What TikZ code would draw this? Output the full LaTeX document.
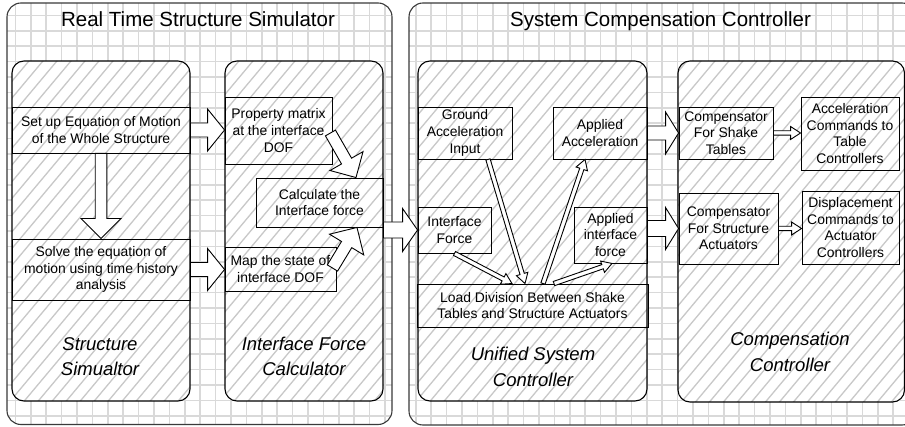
\documentclass[tikz,border=0pt]{standalone}
\usepackage{fontspec}
\setmainfont{Liberation Sans}
\usetikzlibrary{calc}

\definecolor{gridc}{HTML}{D9D9D9}
\definecolor{hatchc}{HTML}{C8C8C8}
\definecolor{framec}{HTML}{3A3A3A}

\tikzset{
  outerpanel/.style={rounded corners=14pt, draw=framec, line width=1.1pt},
  innerpanel/.style={rounded corners=12pt, draw=black, line width=1.1pt},
  gridline/.style={draw=gridc, line width=1.6pt},
  hatchline/.style={draw=hatchc, line width=1.3pt},
  procbox/.style={draw=black, line width=0.9pt, align=center, inner sep=0pt,
    font=\fontsize{13.9}{16.7}\selectfont},
  blockarrow/.style={draw=black, fill=white, line width=0.9pt, line join=miter},
  paneltitle/.style={font=\fontsize{20.5}{24}\selectfont, inner sep=0pt, anchor=base},
  panellabel/.style={font=\fontsize{18.5}{24}\selectfont\itshape, inner sep=0pt, anchor=base},
}

% outer panel: white with a light grid
\newcommand{\gridpanel}[4]{%
  \fill[white, rounded corners=14pt] (#1,#2) rectangle (#3,#4);
  \begin{scope}
    \clip[rounded corners=14pt] (#1,#2) rectangle (#3,#4);
    \foreach \i in {0,...,60} \draw[gridline] (\i*15.4,0) -- (\i*15.4,430);
    \foreach \j in {0,...,28} \draw[gridline] (0,\j*15.4) -- (920,\j*15.4);
  \end{scope}
  \draw[outerpanel] (#1,#2) rectangle (#3,#4);}

% inner panel: white with diagonal hatching
\newcommand{\hatchpanel}[4]{%
  \fill[white, rounded corners=12pt] (#1,#2) rectangle (#3,#4);
  \begin{scope}
    \clip[rounded corners=12pt] (#1,#2) rectangle (#3,#4);
    \foreach \u in {-420,-406,...,920} \draw[hatchline] (\u,430) -- (\u+360,0);
  \end{scope}
  \draw[innerpanel] (#1,#2) rectangle (#3,#4);}

% hollow block arrow: tail, tip, shaft half-width, head half-width, head length
\newcommand{\blockarr}[5]{%
  \coordinate (ba-base) at ($(#2)!#5!(#1)$);
  \draw[blockarrow] ($(#1)!#3!90:(#2)$) -- ($(ba-base)!#3!90:(#2)$)
    -- ($(ba-base)!#4!90:(#2)$) -- (#2) -- ($(ba-base)!#4!-90:(#2)$)
    -- ($(ba-base)!#3!-90:(#2)$) -- ($(#1)!#3!-90:(#2)$) -- cycle;}

\begin{document}
\begin{tikzpicture}[x=1pt, y=-1pt]
\useasboundingbox (0,0) rectangle (905,427);
\fill[white] (0,0) rectangle (905,427);

% outer panels and titles
\gridpanel{7}{3}{392}{424.5}
\gridpanel{409}{3}{916}{425}
\node[paneltitle] (t1) at (198,26.5) {Real Time Structure Simulator};
\node[paneltitle] (t2) at (660.5,26.5) {System Compensation Controller};

% inner panels
\hatchpanel{12}{61}{190}{401}
\hatchpanel{225}{61}{383}{401}
\hatchpanel{418}{61}{647}{401}
\hatchpanel{678}{61}{904.5}{402}

% structure simulator
\node[procbox, minimum width=178pt, minimum height=46pt] (se) at (101,130)
  {Set up Equation of Motion\\of the Whole Structure};
\node[procbox, minimum width=178pt, minimum height=61pt] (sv) at (101,269.5)
  {Solve the equation of\\motion using time history\\analysis};

% interface force calculator
\node[procbox, minimum width=107pt, minimum height=67pt] (pm) at (278.5,130.5)
  {Property matrix\\at the interface\\DOF};
\node[procbox, minimum width=127pt, minimum height=49pt] (cf) at (319.5,202.5)
  {Calculate the\\Interface force};
\node[procbox, minimum width=111pt, minimum height=44pt] (ms) at (280.5,269)
  {Map the state of\\interface DOF};

% unified system controller
\node[procbox, minimum width=94pt, minimum height=52pt] (gai) at (465,133)
  {Ground\\Acceleration\\Input};
\node[procbox, minimum width=94pt, minimum height=52pt] (aa) at (600,133)
  {Applied\\Acceleration};
\node[procbox, minimum width=73pt, minimum height=46pt] (ifc) at (454.5,230)
  {Interface\\Force};
\node[procbox, minimum width=73pt, minimum height=56pt] (aif) at (610.5,235)
  {Applied\\interface\\force};
\node[procbox, minimum width=231pt, minimum height=43pt] (ld) at (532.5,305.5)
  {Load Division Between Shake\\Tables and Structure Actuators};

% compensation controller
\node[procbox, minimum width=94pt, minimum height=52pt] (cst) at (726,133)
  {Compensator\\For Shake\\Tables};
\node[procbox, minimum width=99pt, minimum height=71pt] (csa) at (728.5,228.5)
  {Compensator\\For Structure\\Actuators};
\node[procbox, minimum width=98pt, minimum height=73pt] (ace) at (850,133.5)
  {Acceleration\\Commands to\\Table\\Controllers};
\node[procbox, minimum width=97pt, minimum height=73pt] (dce) at (850.5,227.5)
  {Displacement\\Commands to\\Actuator\\Controllers};

% arrow end points
\coordinate (a1) at (pm.west |- se.east);
\coordinate (a2) at (ms.west |- sv.east);
\coordinate (a3t) at ($(pm.east)+(-2,2.5)$);
\coordinate (a3h) at ($(cf.north)+(36.5,0)$);
\coordinate (a4t) at ($(ms.east)+(-4,-1)$);
\coordinate (a4h) at ($(cf.south)+(37.5,0)$);
\coordinate (a5) at (cf.east |- ifc.west);
\coordinate (a6) at (aif.east |- csa.west);
\coordinate (b1t) at ($(gai.south)+(23,0)$);
\coordinate (b1h) at ($(ld.north)+(-7.5,0)$);
\coordinate (b2h) at ($(ld.north)+(-20.5,0)$);
\coordinate (b3t) at ($(ld.north)+(10.5,0)$);
\coordinate (b3h) at ($(aa.south)+(-15,0)$);
\coordinate (b4t) at ($(ld.north)+(21.5,0)$);
\coordinate (b4h) at ($(aif.south)+(1.5,0)$);
\coordinate (b5) at (ace.west |- cst.east);
\coordinate (b6) at (dce.west |- csa.east);

% wide block arrows
\blockarr{se.east}{a1}{7pt}{21pt}{17pt}
\blockarr{sv.east}{a2}{7pt}{21pt}{17pt}
\blockarr{se.south}{sv.north}{5.8pt}{20pt}{20pt}
\blockarr{a3t}{a3h}{5.8pt}{19pt}{19pt}
\blockarr{a4t}{a4h}{6pt}{20pt}{20pt}
\blockarr{a5}{ifc.west}{8pt}{21.5pt}{15pt}
\blockarr{aa.east}{cst.west}{7pt}{21pt}{13pt}
\blockarr{a6}{csa.west}{8pt}{21pt}{13pt}

% narrow double-line arrows
\blockarr{b1t}{b1h}{2.2pt}{6pt}{10pt}
\blockarr{ifc.south}{b2h}{2.2pt}{6pt}{10pt}
\blockarr{b3t}{b3h}{2.2pt}{6pt}{10pt}
\blockarr{b4t}{b4h}{2.2pt}{6pt}{10pt}
\blockarr{cst.east}{b5}{2.2pt}{6.5pt}{10pt}
\blockarr{csa.east}{b6}{2.2pt}{6.5pt}{10pt}

% panel labels
\node[panellabel] (l1a) at (100,351) {Structure};
\node[panellabel] (l1b) at (100,376) {Simualtor};
\node[panellabel] (l2a) at (304,351) {Interface Force};
\node[panellabel] (l2b) at (304,376) {Calculator};
\node[panellabel] (l3a) at (533,361) {Unified System};
\node[panellabel] (l3b) at (533,387) {Controller};
\node[panellabel] (l4a) at (790,346) {Compensation};
\node[panellabel] (l4b) at (790,372) {Controller};
\end{tikzpicture}
\end{document}
